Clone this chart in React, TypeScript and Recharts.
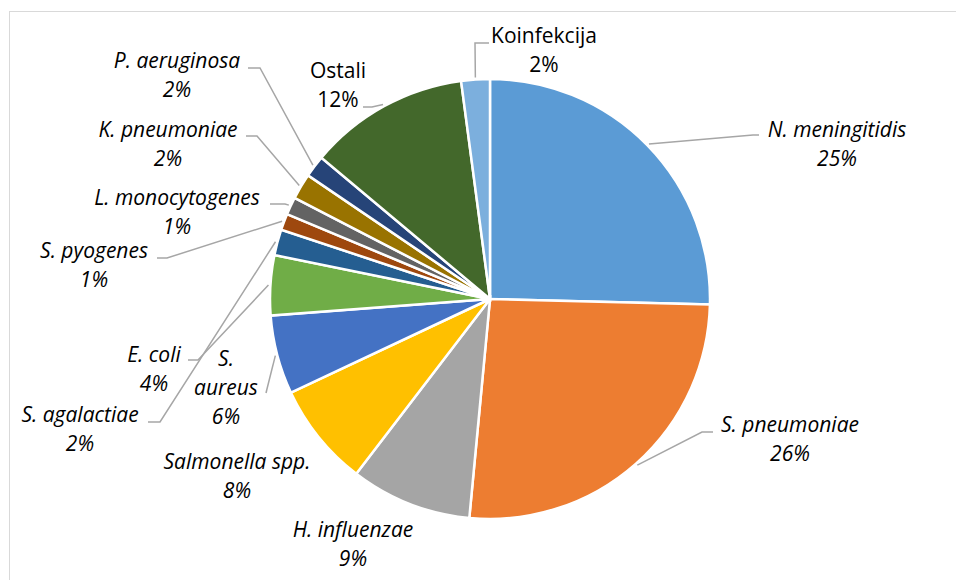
import { PieChart, Pie, Cell } from "recharts"

const categories = [
  "N. meningitidis",
  "S. pneumoniae",
  "H. influenzae",
  "Salmonella spp.",
  "S. aureus",
  "E. coli",
  "S. agalactiae",
  "S. pyogenes",
  "L. monocytogenes",
  "K. pneumoniae",
  "P. aeruginosa",
  "Ostali",
  "Koinfekcija",
]

// shares in %
const shares = [25.4, 26.1, 8.9, 7.6, 5.8, 4.4, 1.9, 1.2, 1.3, 1.9, 1.6, 11.8, 2.1]

const colors = [
  "#5B9BD5",
  "#ED7D31",
  "#A5A5A5",
  "#FFC000",
  "#4472C4",
  "#70AD47",
  "#255E91",
  "#9E480E",
  "#636363",
  "#997300",
  "#264478",
  "#43682B",
  "#7CAFDD",
]

// label placement relative to the pie centre (text centre x, first baseline y),
// leader = start point next to the text and the elbow point
type LabelPos = { tx: number; ty: number; italic: boolean; wrap?: boolean; lead: number[][] | null }

const labelLayout: LabelPos[] = [
  { tx: 347, ty: -162, italic: true, lead: [[269, -164], [263, -164]] },
  { tx: 300, ty: 133, italic: true, lead: [[223, 133], [212, 133]] },
  { tx: -137, ty: 238, italic: true, lead: null },
  { tx: -253, ty: 170, italic: true, lead: null },
  { tx: -264, ty: 67, italic: true, wrap: true, lead: [[-224, 94]] },
  { tx: -336, ty: 63, italic: true, lead: [[-302, 61], [-292, 61]] },
  { tx: -410, ty: 123, italic: true, lead: [[-342, 123], [-330, 123]] },
  { tx: -396, ty: -41, italic: true, lead: [[-333, -41], [-323, -41]] },
  { tx: -313, ty: -94, italic: true, lead: [[-220, -95], [-205, -95]] },
  { tx: -322, ty: -162, italic: true, lead: [[-244, -163], [-233, -163]] },
  { tx: -313, ty: -231, italic: true, lead: [[-242, -231], [-230, -231]] },
  { tx: -152, ty: -221, italic: false, lead: [[-127, -192], [-118, -192]] },
  { tx: 54, ty: -256, italic: false, lead: [[-1, -256], [-15, -256]] },
]

const chartData = categories.map((name, i) => ({ name, value: shares[i] }))

const RAD = Math.PI / 180
const FONT = "'Open Sans', 'Liberation Sans', sans-serif"

function renderLabel(props: any) {
  const { cx, cy, midAngle, outerRadius, percent, index } = props
  const l = labelLayout[index]
  const name = categories[index]
  const lines = l.wrap ? name.split(" ") : [name]
  lines.push(`${Math.round(percent * 100)}%`)

  let leader = null
  if (l.lead) {
    const ex = cx + (outerRadius + 2) * Math.cos(-midAngle * RAD)
    const ey = cy + (outerRadius + 2) * Math.sin(-midAngle * RAD)
    const pts = l.lead.map(([x, y]) => `${cx + x},${cy + y}`).join(" ") + ` ${ex},${ey}`
    leader = <polyline points={pts} fill="none" stroke="#a6a6a6" strokeWidth={1.5} />
  }

  return (
    <g key={`lbl-${index}`}>
      {leader}
      <text
        x={cx + l.tx}
        y={cy + l.ty}
        textAnchor="middle"
        fontFamily={FONT}
        fontSize={21}
        fontStyle={l.italic ? "italic" : "normal"}
        fill="#000"
      >
        {lines.map((s, i) => (
          <tspan key={i} x={cx + l.tx} dy={i === 0 ? 0 : 29}>
            {s}
          </tspan>
        ))}
      </text>
    </g>
  )
}

export default function App() {
  return (
    <div style={{ position: "absolute", left: 0, top: 0, width: 956, height: 580, background: "#fff", overflow: "hidden" }}>
      <div
        style={{
          position: "absolute",
          left: 9,
          top: 11,
          width: 980,
          height: 620,
          border: "1px solid #d9d9d9",
        }}
      />
      <PieChart
        width={956}
        height={580}
        margin={{ top: 0, right: 0, bottom: 0, left: 0 }}
        style={{ position: "absolute", left: 0, top: 0 }}
      >
        <Pie
          data={chartData}
          dataKey="value"
          nameKey="name"
          cx={490}
          cy={299}
          outerRadius={220}
          startAngle={90}
          endAngle={-270}
          stroke="#fff"
          strokeWidth={2.5}
          labelLine={false}
          label={renderLabel}
          isAnimationActive={false}
        >
          {chartData.map((d, i) => (
            <Cell key={d.name} fill={colors[i]} />
          ))}
        </Pie>
      </PieChart>
    </div>
  )
}
